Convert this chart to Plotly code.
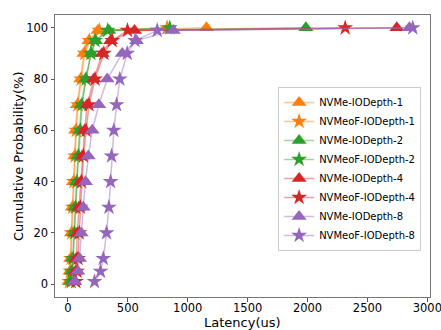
import plotly.graph_objects as go

percentiles = [1, 5, 10, 20, 30, 40, 50, 60, 70, 80, 90, 95, 99, 99.99]

nvme_qd1 = [8, 17, 22, 28, 36, 45, 56, 64, 78, 106, 133, 175, 250, 1156]
nvmeof_qd1 = [12, 20, 26, 32, 40, 50, 60, 70, 84, 110, 140, 180, 262, 828]
nvme_qd2 = [22, 31, 39, 50, 58, 72, 83, 100, 111, 147, 195, 231, 342, 1986]
nvmeof_qd2 = [28, 36, 44, 55, 64, 76, 90, 104, 118, 152, 192, 226, 332, 850]
nvme_qd4 = [56, 64, 70, 78, 92, 106, 120, 139, 161, 217, 286, 356, 556, 2745]
nvmeof_qd4 = [66, 76, 84, 94, 104, 114, 130, 152, 176, 226, 300, 370, 497, 2314]
nvme_qd8 = [56, 83, 97, 111, 128, 147, 170, 203, 258, 328, 453, 572, 880, 2850]
nvmeof_qd8 = [222, 272, 295, 322, 342, 356, 364, 383, 406, 433, 495, 560, 745, 2878]

names = ["NVMe-IODepth-1", "NVMeoF-IODepth-1", "NVMe-IODepth-2", "NVMeoF-IODepth-2",
         "NVMe-IODepth-4", "NVMeoF-IODepth-4", "NVMe-IODepth-8", "NVMeoF-IODepth-8"]
series = [nvme_qd1, nvmeof_qd1, nvme_qd2, nvmeof_qd2, nvme_qd4, nvmeof_qd4, nvme_qd8, nvmeof_qd8]
colors = ["#ff7f0e", "#ff7f0e", "#2ca02c", "#2ca02c", "#d62728", "#d62728", "#9467bd", "#9467bd"]
line_colors = ["rgba(255,127,14,0.45)", "rgba(255,127,14,0.45)", "rgba(44,160,44,0.45)",
               "rgba(44,160,44,0.45)", "rgba(214,39,40,0.45)", "rgba(214,39,40,0.45)",
               "rgba(148,103,189,0.45)", "rgba(148,103,189,0.45)"]
symbols = ["triangle-up", "star"] * 4

fig = go.Figure()
for name, vals, c, lc, s in zip(names, series, colors, line_colors, symbols):
    fig.add_trace(go.Scatter(
        x=vals, y=percentiles, name=name, mode="lines+markers",
        line=dict(color=lc, width=1.5),
        marker=dict(symbol=s, color=c, size=13 if s == "triangle-up" else 12,
                    line=dict(width=0)),
    ))

font = "DejaVu Sans, sans-serif"
fig.update_layout(
    width=441, height=330,
    margin=dict(l=55, r=11, t=15, b=33),
    plot_bgcolor="white", paper_bgcolor="white",
    font=dict(family=font, color="black", size=11.5),
    showlegend=True,
    legend=dict(
        x=0.595, y=0.745, xanchor="left", yanchor="top",
        bgcolor="rgba(255,255,255,0.85)", bordercolor="#cccccc", borderwidth=1,
        font=dict(family=font, size=10, color="black"),
        itemwidth=30, tracegroupgap=0,
    ),
    xaxis=dict(
        range=[-108, 3022], tickmode="array",
        tickvals=[0, 500, 1000, 1500, 2000, 2500, 3000],
        ticktext=["0", "500", "1000", "1500", "2000", "2500", "3000"],
        showgrid=False, zeroline=False, showline=True, mirror=True,
        linecolor="#777777", linewidth=1, ticks="outside", ticklen=3.5,
        tickcolor="#555555", automargin=False, ticklabeloverflow="allow",
        ticklabelstandoff=-3,
    ),
    yaxis=dict(
        range=[-5, 105], tickmode="array",
        tickvals=[0, 20, 40, 60, 80, 100],
        showgrid=False, zeroline=False, showline=True, mirror=True,
        linecolor="#777777", linewidth=1, ticks="outside", ticklen=3.5,
        tickcolor="#555555", automargin=False,
    ),
    annotations=[
        dict(text="Latency(us)", xref="paper", yref="paper", x=0.5, y=0,
             xanchor="center", yanchor="middle", yshift=-25, showarrow=False,
             font=dict(size=13, family=font, color="black")),
        dict(text="Cumulative Probability(%)", xref="paper", yref="paper", x=0, y=0.5,
             xanchor="center", yanchor="middle", xshift=-37, textangle=-90,
             showarrow=False, font=dict(size=13, family=font, color="black")),
    ],
)

fig.write_html("out.html")
